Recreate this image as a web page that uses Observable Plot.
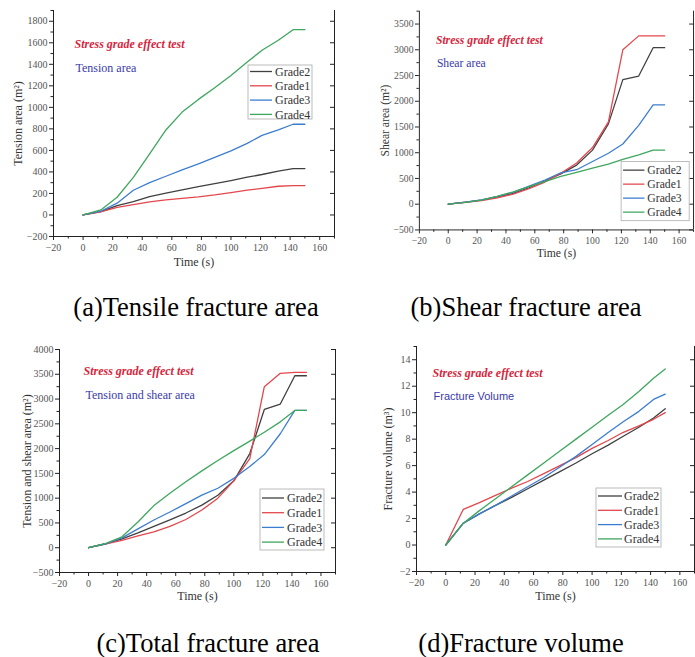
<!DOCTYPE html>
<html><head><meta charset="utf-8">
<script src="https://cdn.jsdelivr.net/npm/d3@7"></script>
<script src="https://cdn.jsdelivr.net/npm/@observablehq/plot@0.6"></script>
<style>
body{margin:0;background:#fff;}
#wrap{position:relative;width:695px;height:657px;overflow:hidden;background:#fff;font-family:"Liberation Serif","Times New Roman",serif;}
#wrap svg{font-family:"Liberation Serif","Times New Roman",serif;}
.panel{position:absolute;}
.cap{position:absolute;font-size:26.5px;color:#000;white-space:nowrap;transform:translate(-50%,-50%);line-height:28px;font-family:"Liberation Serif","Times New Roman",serif;}
</style></head><body><div id="wrap"></div>
<script>
// ---------- data ----------
const time = [0,12,23,34,45,56,67,78,89,100,111,121,132,142,150];
const seriesNames = ["Grade2","Grade1","Grade3","Grade4"];
const seriesColors = ["#404040","#e2474d","#3c7dd0","#3fa65e"];

// (a) Tension area
const tensionGrade2 = [0,31,87,124,171,202,233,264,292,320,351,376,407,431,431];
const tensionGrade1 = [0,28,71,96,121,140,155,168,186,208,230,248,267,273,273];
const tensionGrade3 = [0,35,110,230,300,360,420,475,535,595,665,740,790,843,843];
const tensionGrade4 = [0,47,165,350,568,790,956,1074,1182,1297,1421,1530,1623,1722,1722];
// (b) Shear area
const shearGrade2 = [0,40,80,140,210,320,450,590,760,1050,1560,2420,2490,3040,3040];
const shearGrade1 = [0,35,70,125,195,300,430,600,800,1100,1600,3000,3270,3270,3270];
const shearGrade3 = [0,40,85,150,230,350,470,610,670,830,990,1170,1530,1930,1930];
const shearGrade4 = [0,35,80,150,240,340,440,540,620,700,780,870,960,1050,1050];
// (c) Tension and shear area
const totalGrade2 = [0,80,180,300,430,560,700,860,1060,1350,1900,2790,2900,3470,3470];
const totalGrade1 = [0,80,150,240,320,430,570,760,1000,1350,1800,3250,3520,3540,3540];
const totalGrade3 = [0,80,200,380,560,720,890,1060,1200,1400,1640,1880,2300,2770,2770];
const totalGrade4 = [0,90,220,520,850,1100,1330,1550,1760,1960,2150,2330,2540,2770,2770];
// (d) Fracture volume
const volumeGrade2 = [0,1.65,2.35,3.0,3.6,4.25,4.9,5.55,6.2,6.9,7.55,8.2,8.9,9.6,10.3];
const volumeGrade1 = [0,2.7,3.2,3.75,4.3,4.8,5.4,6.0,6.6,7.3,7.9,8.5,9.0,9.5,10.0];
const volumeGrade3 = [0,1.65,2.35,3.0,3.7,4.4,5.1,5.9,6.7,7.6,8.5,9.3,10.1,11.0,11.4];
const volumeGrade4 = [0,1.65,2.6,3.5,4.4,5.3,6.2,7.1,8.0,8.9,9.8,10.6,11.6,12.6,13.3];

const xTicks = [-20,0,20,40,60,80,100,120,140,160];
const xMinor = [-10,10,30,50,70,90,110,130,150,170];
const annTitle = "Stress grade effect test";
const xTitle = "Time (s)";
const captions = ["(a)Tensile fracture area","(b)Shear fracture area","(c)Total fracture area","(d)Fracture volume"];

const SERIF = "Liberation Serif, Times New Roman, serif";
const fmt = d => d < 0 ? "\u2212" + Math.abs(d) : String(d);

function build(arrs){
  const out=[];
  arrs.forEach((a,i)=>a.forEach((v,j)=>out.push({t:time[j],v,s:seriesNames[i]})));
  return out;
}

const wrap = document.getElementById("wrap");

function panel(o){
  const data = build(o.series);
  const pxPerUnit = (o.width - o.mL - o.mR)/190;
  const svg = Plot.plot({
    width:o.width, height:o.height,
    marginLeft:o.mL, marginRight:o.mR, marginTop:o.mT, marginBottom:o.mB,
    style:{fontFamily:SERIF, fontSize:"10px", color:"#222", background:"transparent"},
    x:{domain:[-20,170], label:null},
    y:{domain:o.yDomain, label:null},
    color:{domain:seriesNames, range:seriesColors},
    marks:[
      Plot.ruleX([-20],{stroke:"#222",strokeWidth:1}),
      Plot.ruleX([170],{stroke:"#222",strokeWidth:1}),
      Plot.ruleY([o.yDomain[0]],{stroke:"#222",strokeWidth:1}),
      Plot.ruleY(o.yTicks,{x1:170,x2:170-4/pxPerUnit,stroke:"#222"}),
      Plot.axisX(xTicks,{tickSize:4,tickPadding:3,fontSize:10,fontFamily:SERIF,fill:"#555",stroke:"#222",label:null,tickFormat:fmt}),
      Plot.axisX(xMinor,{tickSize:2.5,tickFormat:()=>"",stroke:"#222",label:null}),
      Plot.axisY(o.yTicks,{tickSize:4,tickPadding:2,fontSize:10,fontFamily:SERIF,fill:"#555",stroke:"#222",label:null,tickFormat:fmt}),
      Plot.axisY(o.yMinor,{tickSize:2.5,tickFormat:()=>"",stroke:"#222",label:null}),
      Plot.line(data,{x:"t",y:"v",stroke:"s",z:"s",strokeWidth:1.3}),
      Plot.text([annTitle],{text:d=>d,frameAnchor:"top-left",dx:o.ann[0],dy:o.ann[1],textAnchor:"start",fontWeight:"bold",fontStyle:"italic",fill:"#d7263d",fontSize:12,fontFamily:SERIF}),
      Plot.text([o.annSub],{text:d=>d,frameAnchor:"top-left",dx:o.ann[2],dy:o.ann[3],textAnchor:"start",fill:"#3a3aa8",fontSize:o.subSize||12,fontFamily:o.subFont||SERIF}),
      Plot.text([xTitle],{text:d=>d,frameAnchor:"bottom",dy:o.xTitleDy,textAnchor:"middle",fontSize:12,fill:"#333",fontFamily:SERIF}),
      Plot.text([o.yLabel],{text:d=>d,frameAnchor:"left",dx:o.yTitleDx,rotate:-90,textAnchor:"middle",fontSize:12,fill:"#333",fontFamily:SERIF})
    ]
  });
  // legend
  const L=o.legend;
  const g=d3.select(svg).append("g").attr("text-anchor","start");
  g.append("rect").attr("x",L.x).attr("y",L.y).attr("width",L.w).attr("height",L.h)
    .attr("fill","#fff").attr("stroke","#aaa").attr("stroke-width",0.8);
  seriesNames.forEach((n,i)=>{
    const yy=L.y0+i*L.step;
    g.append("line").attr("x1",L.lx1).attr("x2",L.lx2).attr("y1",yy).attr("y2",yy)
      .attr("stroke",seriesColors[i]).attr("stroke-width",1.3);
    g.append("text").attr("x",L.tx).attr("y",yy).attr("dy","0.35em").attr("text-anchor","start")
      .attr("font-size",12).attr("fill","#333").attr("font-family",SERIF).text(n);
  });
  const div=document.createElement("div");
  div.className="panel";
  div.style.left=o.left+"px"; div.style.top=o.top+"px";
  div.appendChild(svg);
  wrap.appendChild(div);
}

panel({left:0,top:0,width:345,height:280,mL:53,mR:11,mT:10,mB:44,
  yDomain:[-200,1900], yTicks:d3.range(-200,1801,200), yMinor:d3.range(-100,1901,200),
  yLabel:"Tension area (m²)", annSub:"Tension area", ann:[21,29,22,53],
  xTitleDy:29, yTitleDx:-35,
  series:[tensionGrade2,tensionGrade1,tensionGrade3,tensionGrade4],
  legend:{x:248,y:65,w:64,h:54,y0:71.5,step:14.3,lx1:250,lx2:272,tx:275}});

panel({left:345,top:0,width:360,height:280,mL:76,mR:2,mT:11,mB:44,
  yDomain:[-500,3750], yTicks:d3.range(-500,3501,500), yMinor:d3.range(-250,3751,500),
  yLabel:"Shear area (m²)", annSub:"Shear area", ann:[17,25,18,49],
  xTitleDy:28, yTitleDx:-35,
  series:[shearGrade2,shearGrade1,shearGrade3,shearGrade4],
  legend:{x:284,y:166,w:70,h:61,y0:175,step:14.4,lx1:286,lx2:308,tx:311}});

panel({left:0,top:330,width:345,height:290,mL:59,mR:10,mT:19,mB:48,
  yDomain:[-500,4000], yTicks:d3.range(-500,4001,500), yMinor:d3.range(-250,3751,500),
  yLabel:"Tension and shear area (m²)", annSub:"Tension and shear area", ann:[24,17,26,41],
  xTitleDy:27, yTitleDx:-32,
  series:[totalGrade2,totalGrade1,totalGrade3,totalGrade4],
  legend:{x:260,y:159,w:64,h:61,y0:168,step:14.7,lx1:262,lx2:284,tx:287}});

panel({left:345,top:330,width:350,height:290,mL:71,mR:1,mT:16,mB:49,
  yDomain:[-2,15], yTicks:d3.range(-2,15,2), yMinor:d3.range(-1,16,2),
  yLabel:"Fracture volume (m³)", annSub:"Fracture Volume", ann:[16,22,17,46], subFont:"Liberation Sans, Arial, sans-serif", subSize:11,
  xTitleDy:28, yTitleDx:-28,
  series:[volumeGrade2,volumeGrade1,volumeGrade3,volumeGrade4],
  legend:{x:251,y:158,w:65,h:59,y0:166,step:14.3,lx1:253,lx2:277,tx:279}});

const capPos=[[196,307],[526,307],[208,643],[521,643]];
captions.forEach((c,i)=>{
  const d=document.createElement("div");
  d.className="cap"; d.textContent=c;
  d.style.left=capPos[i][0]+"px"; d.style.top=capPos[i][1]+"px";
  wrap.appendChild(d);
});
</script></body></html>
